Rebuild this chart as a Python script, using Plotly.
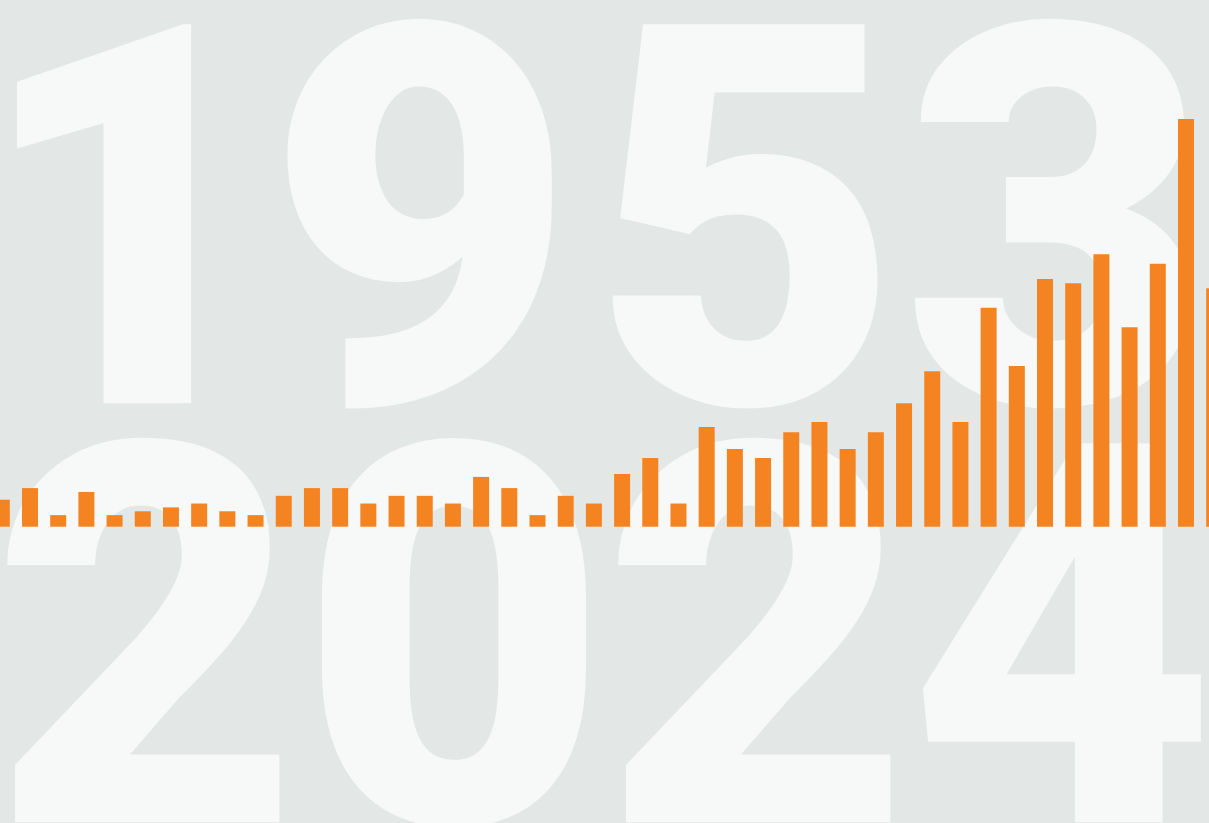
import plotly.graph_objects as go

# ---- data ----
years = list(range(1981, 2025))
values = [7, 10, 3, 9, 3, 4, 5, 6, 4, 3,
          8, 10, 10, 6, 8, 8, 6, 12.9, 10, 3,
          8, 6, 13.65, 17.8, 6, 25.8, 20.1, 17.8, 24.5, 27.1,
          20.1, 24.5, 32, 40.3, 27.1, 56.7, 41.6, 64.2, 63.1, 70.6,
          51.7, 68.1, 105.6, 61.8]

# big background year labels (one glyph per entry)
top_digits = ["1", "9", "5", "3"]
bottom_digits = ["2", "0", "2", "4"]

# ---- layout helpers (pixel positions of the decorative glyphs) ----
W, H = 1209, 823
top_x = [128, 421, 746, 1057]
bot_x = [146, 454, 757, 1062]
top_y = 270
bot_y = 689

BG = "#E3E7E6"
FG = "#F7F8F8"
ORANGE = "#F48422"

fig = go.Figure()

fig.add_trace(go.Scatter(
    x=top_x + bot_x,
    y=[top_y] * 4 + [bot_y] * 4,
    text=top_digits + bottom_digits,
    mode="text",
    textposition="middle center",
    textfont=dict(family="Roboto", size=533, color=FG, weight=900),
    hoverinfo="skip",
    showlegend=False,
    cliponaxis=False,
    xaxis="x", yaxis="y",
))

fig.add_trace(go.Bar(
    x=years, y=values,
    width=0.5675,
    marker=dict(color=ORANGE, line=dict(width=0)),
    showlegend=False,
    hoverinfo="x+y",
    xaxis="x2", yaxis="y2",
))

px_per_year = 28.195
px_per_unit = 3.86
baseline_from_bottom = 296.3
x0 = 1981 - 1.8 / px_per_year

fig.update_layout(
    width=W, height=H,
    margin=dict(l=0, r=0, t=0, b=0),
    paper_bgcolor=BG, plot_bgcolor=BG,
    showlegend=False,
    xaxis=dict(range=[0, W], visible=False, fixedrange=True),
    yaxis=dict(range=[H, 0], visible=False, fixedrange=True),
    xaxis2=dict(range=[x0, x0 + W / px_per_year], visible=False,
                overlaying="x", fixedrange=True),
    yaxis2=dict(range=[-baseline_from_bottom / px_per_unit,
                       (H - baseline_from_bottom) / px_per_unit],
                visible=False, overlaying="y", fixedrange=True),
)

fig.write_html(
    "out.html",
    config={"displayModeBar": False},
    post_script="document.body.style.margin='0';"
                "document.body.style.overflow='hidden';"
                "document.documentElement.style.background='#E3E7E6';",
)
